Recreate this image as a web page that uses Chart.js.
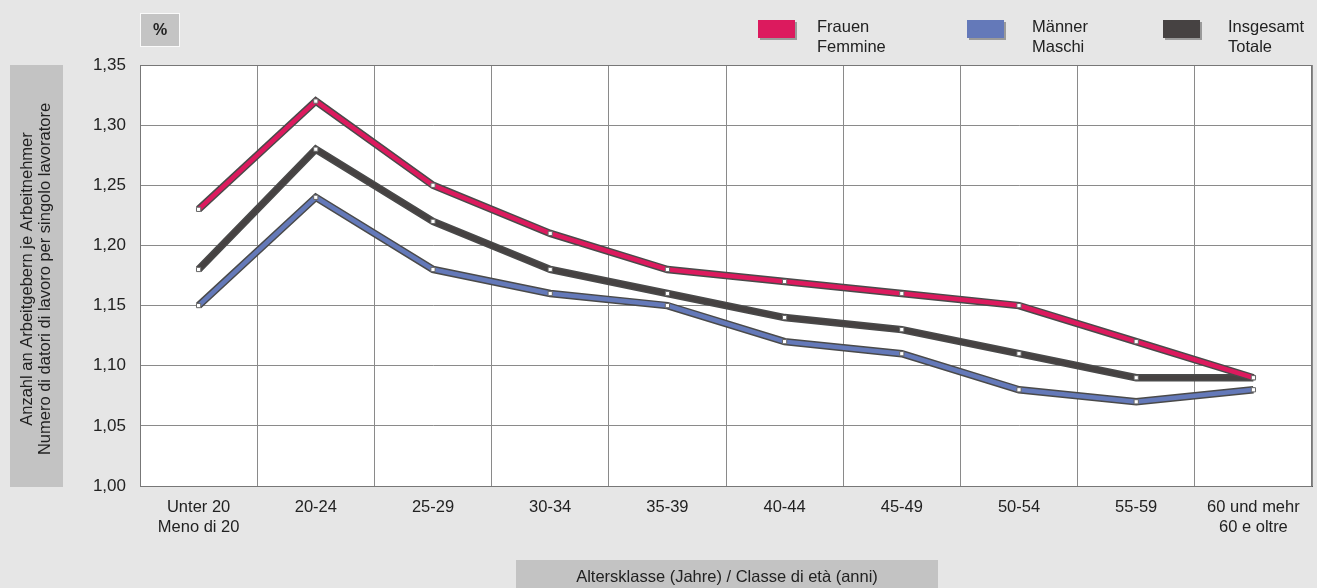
<!DOCTYPE html>
<html>
<head>
<meta charset="utf-8">
<script src="https://cdn.jsdelivr.net/npm/chart.js@4"></script>
<style>
  html, body { margin: 0; padding: 0; background: #e6e6e6; }
  #wrap { width: 1317px; height: 588px; position: relative; }
</style>
</head>
<body>
<div id="wrap"><canvas id="chart" width="1317" height="588"></canvas></div>
<script>
// data
const categories = [['Unter 20', 'Meno di 20'], '20-24', '25-29', '30-34', '35-39', '40-44', '45-49', '50-54', '55-59', ['60 und mehr', '60 e oltre']];
const frauen = [1.23, 1.32, 1.25, 1.21, 1.18, 1.17, 1.16, 1.15, 1.12, 1.09];
const maenner = [1.15, 1.24, 1.18, 1.16, 1.15, 1.12, 1.11, 1.08, 1.07, 1.08];
const insgesamt = [1.18, 1.28, 1.22, 1.18, 1.16, 1.14, 1.13, 1.11, 1.09, 1.09];
const seriesNames = [['Frauen', 'Femmine'], ['Männer', 'Maschi'], ['Insgesamt', 'Totale']];
const seriesColors = ['#dc1a5e', '#6479b9', '#464242'];
const yTitle = ['Anzahl an Arbeitgebern je Arbeitnehmer', 'Numero di datori di lavoro per singolo lavoratore'];
const xTitle = 'Altersklasse (Jahre) / Classe di età (anni)';

const FONT = 'Liberation Sans, Arial, sans-serif';

function outline(data, order) {
  return { data: data, borderColor: '#4a4a4a', borderWidth: 7.5, pointRadius: 0, tension: 0, order: order };
}
function line(data, color, order) {
  return {
    data: data, borderColor: color, borderWidth: 4.5, tension: 0, order: order,
    pointStyle: 'rect', pointRadius: 3, pointBackgroundColor: '#fff', pointBorderColor: '#666', pointBorderWidth: 1
  };
}

const decor = {
  id: 'decor',
  beforeDraw(chart) {
    const { ctx, chartArea: a } = chart;
    ctx.save();
    ctx.fillStyle = '#fff';
    ctx.fillRect(a.left, a.top, a.right - a.left, a.bottom - a.top);
    ctx.restore();
  },
  afterDraw(chart) {
    const { ctx, chartArea: a } = chart;
    ctx.save();
    // % box
    ctx.fillStyle = '#fafafa';
    ctx.fillRect(140, 13, 40, 34);
    ctx.fillStyle = '#c4c4c4';
    ctx.fillRect(141, 14, 38, 32);
    ctx.fillStyle = '#222';
    ctx.font = 'bold 16px ' + FONT;
    ctx.textAlign = 'center';
    ctx.textBaseline = 'middle';
    ctx.fillText('%', 160, 31);

    // y title box
    ctx.fillStyle = '#c3c3c3';
    ctx.fillRect(10, 65, 53, 422);
    ctx.save();
    ctx.translate(36, 279);
    ctx.rotate(-Math.PI / 2);
    ctx.fillStyle = '#222';
    ctx.font = '16.5px ' + FONT;
    ctx.fillText(yTitle[0], 0, -9);
    ctx.fillText(yTitle[1], 0, 9);
    ctx.restore();

    // x title box
    ctx.fillStyle = '#c3c3c3';
    ctx.fillRect(516, 560, 422, 28);
    ctx.fillStyle = '#222';
    ctx.font = '16.5px ' + FONT;
    ctx.fillText(xTitle, 727, 577);

    // legend
    const boxX = [758, 967, 1163];
    const textX = [817, 1032, 1228];
    ctx.textAlign = 'left';
    ctx.font = '16.5px ' + FONT;
    for (let i = 0; i < 3; i++) {
      ctx.fillStyle = '#9a9a9a';
      ctx.fillRect(boxX[i] + 2, 22, 37, 18);
      ctx.fillStyle = seriesColors[i];
      ctx.fillRect(boxX[i], 20, 37, 18);
      ctx.fillStyle = '#222';
      ctx.fillText(seriesNames[i][0], textX[i], 27);
      ctx.fillText(seriesNames[i][1], textX[i], 47);
    }

    // plot frame
    ctx.strokeStyle = '#777';
    ctx.lineWidth = 1;
    ctx.strokeRect(a.left + 0.5, a.top + 0.5, a.right - a.left - 1, a.bottom - a.top);
    ctx.restore();
  }
};

new Chart(document.getElementById('chart'), {
  type: 'line',
  data: {
    labels: categories,
    datasets: [
      outline(insgesamt, 6), line(insgesamt, seriesColors[2], 5),
      outline(maenner, 4), line(maenner, seriesColors[1], 3),
      outline(frauen, 2), line(frauen, seriesColors[0], 1)
    ]
  },
  options: {
    responsive: false,
    animation: false,
    layout: { padding: { left: 0, top: 65, right: 5, bottom: 0 } },
    plugins: { legend: { display: false }, tooltip: { enabled: false } },
    scales: {
      x: {
        offset: true,
        grid: { offset: true, color: '#8a8a8a', drawTicks: false },
        border: { color: '#555' },
        ticks: { padding: 12, color: '#222', font: { family: FONT, size: 16.5, lineHeight: 1.2 } },
        afterFit(s) { s.height = 102; }
      },
      y: {
        min: 1, max: 1.35,
        grid: { color: '#8a8a8a', drawTicks: false },
        border: { color: '#555' },
        ticks: {
          stepSize: 0.05, padding: 14, color: '#222', font: { family: FONT, size: 17 },
          callback: v => v.toFixed(2).replace('.', ',')
        },
        afterFit(s) { s.width = 140; }
      }
    }
  },
  plugins: [decor]
});
</script>
</body>
</html>
